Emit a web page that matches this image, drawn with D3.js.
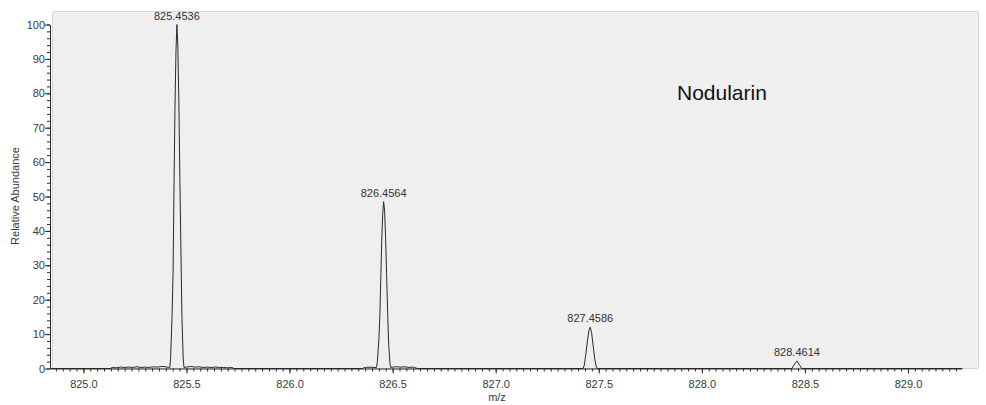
<!DOCTYPE html>
<html>
<head>
<meta charset="utf-8">
<script src="https://cdn.jsdelivr.net/npm/d3@7"></script>
<style>
  body { margin: 0; background: #fff; }
  svg { display: block; font-family: Arial, "Liberation Sans", sans-serif; }
  .tick-label { font-size: 11px; fill: #3a3a3a; }
  .peak-label { font-size: 11px; fill: #333; }
</style>
</head>
<body>
<script>
// peak centroids with their labels
const peakMz = [825.4536, 826.4564, 827.4586, 828.4614];
const peakAbund = [100, 48.5, 12, 2.2];
const peakLabels = ["825.4536", "826.4564", "827.4586", "828.4614"];

// profile points, [m/z, relative abundance]
const profile1 = [
  [825.13, 0], [825.14, 0.3], [825.16, 0.2], [825.18, 0.4], [825.20, 0.3], [825.22, 0.4],
  [825.24, 0.3], [825.26, 0.5], [825.28, 0.3], [825.30, 0.4], [825.32, 0.3], [825.34, 0.5],
  [825.36, 0.4], [825.38, 0.6], [825.40, 0.5], [825.412, 0.3],
  [825.419, 0.3], [825.423, 3], [825.430, 15], [825.435, 28], [825.440, 55], [825.444, 75],
  [825.449, 92], [825.4536, 100], [825.458, 94], [825.463, 78], [825.468, 55], [825.473, 35],
  [825.478, 15], [825.484, 3], [825.488, 0.3],
  [825.50, 0.4], [825.52, 0.6], [825.54, 0.4], [825.56, 0.5], [825.58, 0.3], [825.60, 0.4],
  [825.62, 0.3], [825.64, 0.4], [825.66, 0.3], [825.68, 0.3], [825.70, 0.2], [825.72, 0.3], [825.73, 0]
];
const profile2 = [
  [826.355, 0], [826.36, 0.3], [826.37, 0.2], [826.38, 0.4], [826.39, 0.3], [826.40, 0.4], [826.41, 0.3],
  [826.422, 0.3], [826.426, 2], [826.433, 8], [826.438, 15], [826.443, 27], [826.447, 37],
  [826.452, 45], [826.4564, 48.5], [826.461, 46], [826.466, 38], [826.471, 27], [826.476, 16],
  [826.481, 7], [826.487, 1.5], [826.491, 0.3],
  [826.50, 0.4], [826.52, 0.5], [826.54, 0.4], [826.56, 0.5], [826.58, 0.3], [826.60, 0.4], [826.62, 0]
];
const profile3 = [
  [827.424, 0], [827.430, 1], [827.437, 4], [827.445, 8], [827.452, 11], [827.4586, 12],
  [827.465, 10.5], [827.472, 7], [827.480, 3], [827.487, 0.8], [827.492, 0]
];
const profile4 = [
  [828.437, 0], [828.447, 1], [828.4614, 2.2], [828.474, 1], [828.485, 0]
];

const xTicks = [825.0, 825.5, 826.0, 826.5, 827.0, 827.5, 828.0, 828.5, 829.0];
const yTicks = [0, 10, 20, 30, 40, 50, 60, 70, 80, 90, 100];
const title = "Nodularin";

const width = 986, height = 405;

const x = d3.scaleLinear().domain([824.838, 829.262]).range([50, 962]);
const y = d3.scaleLinear().domain([0, 100]).range([368.5, 24.5]);

const svg = d3.select("body").append("svg")
  .attr("width", width)
  .attr("height", height);

// plot panel
svg.append("rect")
  .attr("x", 52.5).attr("y", 11.5)
  .attr("width", 926).attr("height", 357)
  .attr("rx", 2)
  .attr("fill", "#efefef")
  .attr("stroke", "#d6d6d6");

// spectrum trace
const spectrum = [[x.domain()[0], 0]]
  .concat(profile1, profile2, profile3, profile4, [[x.domain()[1], 0]]);

const line = d3.line()
  .x(function(d) { return x(d[0]); })
  .y(function(d) { return y(d[1]); });

svg.append("path")
  .datum(spectrum)
  .attr("fill", "none")
  .attr("stroke", "#2a2a2a")
  .attr("stroke-width", 1)
  .attr("stroke-linejoin", "round")
  .attr("d", line);

// x axis
const xAxisG = svg.append("g").attr("transform", "translate(0," + y(0) + ")");
const minorX = d3.range(0, 133).map(function(i) { return 825.0 - 5 / 30 + i / 30; })
  .filter(function(v) { return v >= x.domain()[0] && v <= x.domain()[1]; });
xAxisG.append("g")
  .call(d3.axisBottom(x).tickValues(minorX).tickSize(3).tickFormat(""))
  .call(function(g) { g.select(".domain").remove(); });
xAxisG.append("g")
  .call(d3.axisBottom(x).tickValues(xTicks).tickSize(5).tickSizeOuter(0)
    .tickFormat(d3.format(".1f")))
  .call(function(g) {
    g.select(".domain").attr("stroke", "#2a2a2a");
    g.selectAll("text").attr("class", "tick-label").attr("dy", "1.05em").attr("fill", null);
  });
xAxisG.selectAll("line").attr("stroke", "#2a2a2a");

// y axis
const yAxisG = svg.append("g").attr("transform", "translate(50,0)");
yAxisG.append("g")
  .call(d3.axisLeft(y).tickValues(d3.range(0, 101, 2)).tickSize(3).tickFormat(""))
  .call(function(g) { g.select(".domain").remove(); });
yAxisG.append("g")
  .call(d3.axisLeft(y).tickValues(yTicks).tickSize(5).tickSizeOuter(0))
  .call(function(g) {
    g.select(".domain").attr("stroke", "#2a2a2a");
    g.selectAll("text").attr("class", "tick-label").attr("x", -5).attr("fill", null);
  });
yAxisG.selectAll("line").attr("stroke", "#2a2a2a");

// axis titles
svg.append("text")
  .attr("class", "tick-label")
  .attr("x", 497).attr("y", 401)
  .attr("text-anchor", "middle")
  .text("m/z");

svg.append("text")
  .attr("class", "tick-label")
  .attr("transform", "translate(19,196) rotate(-90)")
  .attr("text-anchor", "middle")
  .text("Relative Abundance");

// peak labels
svg.append("g").selectAll("text")
  .data(peakMz)
  .enter()
  .append("text")
  .attr("class", "peak-label")
  .attr("x", function(d) { return x(d); })
  .attr("y", function(d, i) { return y(peakAbund[i]) - 5; })
  .attr("text-anchor", "middle")
  .text(function(d, i) { return peakLabels[i]; });

// compound name
svg.append("text")
  .attr("x", 677).attr("y", 100)
  .attr("font-size", "21px")
  .attr("fill", "#111")
  .text(title);
</script>
</body>
</html>
